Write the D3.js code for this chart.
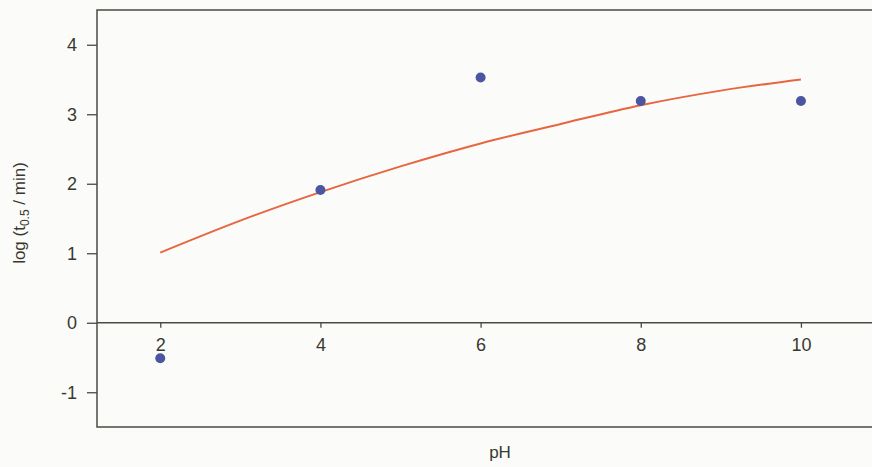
<!DOCTYPE html>
<html>
<head>
<meta charset="utf-8">
<script src="https://cdn.jsdelivr.net/npm/d3@7"></script>
<style>
  body { margin: 0; background: #fbfcf9; }
  svg { display: block; }
</style>
</head>
<body>
<div class="container"></div>
<script>
// measured points
const phValues = [2, 4, 6, 8, 10];
const logT = [-0.51, 1.91, 3.53, 3.19, 3.19];
// fitted curve
const fitPh = [2, 3, 4, 5, 6, 7, 8, 9, 10];
const fitLogT = [1.01, 1.47, 1.88, 2.25, 2.58, 2.86, 3.13, 3.34, 3.50];
const xTicks = [2, 4, 6, 8, 10];
const yTicks = [-1, 0, 1, 2, 3, 4];

const W = 872, H = 467;
const margin = { top: 10, right: -9, bottom: 40, left: 97 };
let w = W - margin.left - margin.right,
    h = H - margin.top - margin.bottom;
const font = "Liberation Sans, Arial, sans-serif";
const textColor = "#38382f";
const axisColor = "#4a4a42";

let svg = d3.select(".container").append("svg").attr("width", W).attr("height", H);
let g = svg.append("g").attr("transform", "translate(" + margin.left + "," + margin.top + ")");

let xScale = d3.scaleLinear().domain([1.21, 11]).range([0, w]);
let yScale = d3.scaleLinear().domain([-1.5, 4.5]).range([h, 0]);

// frame
g.append("rect").attr("x", 0).attr("y", 0).attr("width", w).attr("height", h)
  .attr("fill", "none").attr("stroke", axisColor).attr("stroke-width", 1.5);

// y axis
let yAxis = g.append("g").call(d3.axisLeft(yScale).tickValues(yTicks).tickSize(10).tickPadding(10).tickFormat(d => String(d)));
yAxis.select(".domain").remove();
yAxis.selectAll(".tick line").attr("stroke", axisColor).attr("stroke-width", 1.3);
yAxis.selectAll(".tick text").style("font-family", font).style("font-size", "18px").style("fill", textColor);

// x axis on y = 0
let xAxis = g.append("g").attr("transform", "translate(0," + yScale(0) + ")")
  .call(d3.axisBottom(xScale).tickValues(xTicks).tickSize(5).tickPadding(10).tickFormat(d => String(d)));
xAxis.select(".domain").remove();
xAxis.selectAll(".tick line").attr("stroke", axisColor).attr("stroke-width", 1.3);
xAxis.selectAll(".tick text").style("font-family", font).style("font-size", "18px").style("fill", textColor);
g.append("line").attr("x1", 0).attr("x2", w).attr("y1", yScale(0)).attr("y2", yScale(0))
  .attr("stroke", axisColor).attr("stroke-width", 1.5);

// fitted curve
let line = d3.line().x((d, i) => xScale(fitPh[i])).y(d => yScale(d)).curve(d3.curveMonotoneX);
g.append("path").datum(fitLogT).attr("d", line)
  .attr("fill", "none").attr("stroke", "#e8653f").attr("stroke-width", 2);

// points
g.selectAll(".dot").data(logT).enter().append("circle").attr("class", "dot")
  .attr("cx", (d, i) => xScale(phValues[i])).attr("cy", d => yScale(d))
  .attr("r", 5).attr("fill", "#4b55a0");

// axis titles
svg.append("text").attr("x", 500).attr("y", 458).attr("text-anchor", "middle")
  .style("font-family", font).style("font-size", "17px").style("fill", textColor)
  .text("pH");

let yt = svg.append("text").attr("transform", "translate(25,213) rotate(-90)").attr("text-anchor", "middle")
  .style("font-family", font).style("font-size", "17px").style("fill", textColor);
yt.append("tspan").text("log (t");
yt.append("tspan").attr("dy", 4).style("font-size", "12px").text("0.5");
yt.append("tspan").attr("dy", -4).text(" / min)");
</script>
</body>
</html>
